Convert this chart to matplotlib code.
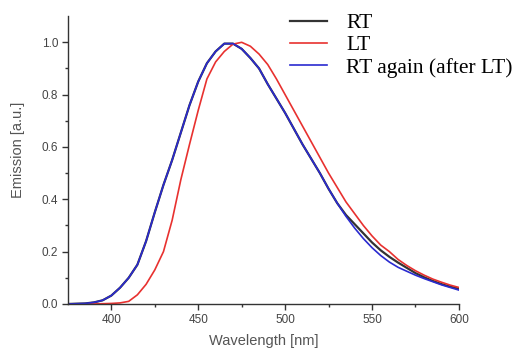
import numpy as np
import matplotlib
matplotlib.use("Agg")
import matplotlib.pyplot as plt

# wavelength grid (nm)
wl = np.arange(375, 601, 5)

# RT emission (black)
rt = [0.0, 0.001, 0.002, 0.006, 0.014, 0.032, 0.062, 0.1, 0.15, 0.24,
      0.35, 0.455, 0.55, 0.655, 0.76, 0.85, 0.92, 0.965, 0.995, 0.995,
      0.975, 0.94, 0.9, 0.84, 0.785, 0.73, 0.67, 0.61, 0.555, 0.5,
      0.44, 0.385, 0.34, 0.305, 0.27, 0.235, 0.205, 0.18, 0.158, 0.138,
      0.118, 0.102, 0.088, 0.076, 0.066, 0.058]

# LT emission (red)
lt = [0.0, 0.0, 0.0, 0.0, 0.001, 0.002, 0.004, 0.01, 0.035, 0.075,
      0.13, 0.2, 0.32, 0.475, 0.61, 0.74, 0.86, 0.925, 0.965, 0.993,
      1.0, 0.985, 0.955, 0.915, 0.86, 0.8, 0.74, 0.68, 0.62, 0.56,
      0.5, 0.445, 0.39, 0.345, 0.3, 0.26, 0.225, 0.2, 0.17, 0.147,
      0.127, 0.11, 0.095, 0.083, 0.072, 0.063]

# RT again after LT (blue)
rt2 = [0.0, 0.001, 0.002, 0.006, 0.014, 0.032, 0.062, 0.1, 0.15, 0.24,
       0.35, 0.455, 0.55, 0.655, 0.76, 0.85, 0.92, 0.965, 0.995, 0.995,
       0.975, 0.94, 0.9, 0.84, 0.785, 0.73, 0.67, 0.61, 0.555, 0.5,
       0.44, 0.385, 0.335, 0.29, 0.25, 0.215, 0.185, 0.16, 0.14, 0.125,
       0.11, 0.097, 0.085, 0.073, 0.063, 0.053]

labels = ["RT", "LT", "RT again (after LT)"]

fig = plt.figure(figsize=(5.18, 3.51), dpi=100)
ax = fig.add_axes([0.131, 0.134, 0.755, 0.82])

ax.plot(wl, rt, color="#333333", lw=1.6, label=labels[0])
ax.plot(wl, lt, color="#e8312f", lw=1.2, label=labels[1])
ax.plot(wl, rt2, color="#2a2ad0", lw=1.2, label=labels[2])

ax.set_xlim(375, 600)
ax.set_ylim(0, 1.1)
ax.set_xticks([400, 450, 500, 550, 600])
ax.set_xticks([425, 475, 525, 575], minor=True)
ax.set_yticks([0.0, 0.2, 0.4, 0.6, 0.8, 1.0])
ax.set_yticks([0.1, 0.3, 0.5, 0.7, 0.9], minor=True)
ax.yaxis.set_major_formatter(matplotlib.ticker.FormatStrFormatter("%.1f"))

for s in ["top", "right"]:
    ax.spines[s].set_visible(False)
for s in ["left", "bottom"]:
    ax.spines[s].set_color("#333333")
    ax.spines[s].set_linewidth(1.0)

ax.tick_params(which="major", length=4, width=1, color="#333333", pad=3,
               labelsize=8.5, labelcolor="#444444")
ax.tick_params(which="minor", length=2.5, width=1, color="#333333")
for t in ax.get_xticklabels() + ax.get_yticklabels():
    t.set_family("Liberation Sans")

ax.set_xlabel("Wavelength [nm]", fontsize=10.5, color="#555555",
              family="Liberation Sans", labelpad=6)
ax.set_ylabel("Emission [a.u.]", fontsize=10.5, color="#555555",
              family="Liberation Sans")
ax.yaxis.set_label_coords(-0.11, 0.535)

fig.legend(loc="upper left", bbox_to_anchor=(0.56, 0.963), frameon=False,
           prop={"family": "Liberation Serif", "size": 15.5},
           handlelength=1.7, handletextpad=0.9, labelspacing=0.1,
           borderaxespad=0, borderpad=0)

fig.savefig("out.png", dpi=100)
